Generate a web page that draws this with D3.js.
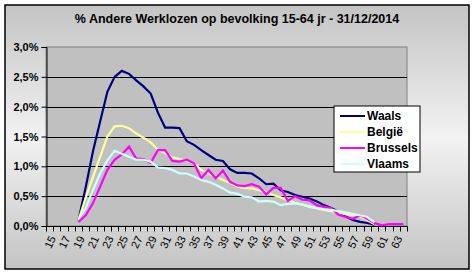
<!DOCTYPE html>
<html>
<head>
<meta charset="utf-8">
<script src="https://cdn.jsdelivr.net/npm/d3@7"></script>
<style>
  html, body { margin: 0; padding: 0; background: #fff; }
  svg { display: block; font-family: Arial, "Liberation Sans", sans-serif; }
</style>
</head>
<body>
<svg id="chart" width="475" height="274"></svg>
<script>
// ages 15..64
const ages = d3.range(15, 65);
const yTicks = [0, 0.005, 0.01, 0.015, 0.02, 0.025, 0.03];

// values in %, null = no data (ages 15-18)
const waals = [null, null, null, null,
  0.10, 0.65, 1.25, 1.75, 2.25, 2.50, 2.60, 2.55, 2.44, 2.34, 2.22, 1.90, 1.65, 1.65, 1.64,
  1.42, 1.36, 1.27, 1.19, 1.11, 1.09, 0.95, 0.89, 0.89, 0.88, 0.80, 0.70, 0.71, 0.60, 0.57,
  0.52, 0.49, 0.46, 0.41, 0.35, 0.30, 0.24, 0.16, 0.10, 0.07, 0.05, 0.02];
const belgie = [null, null, null, null,
  0.10, 0.47, 0.82, 1.16, 1.50, 1.67, 1.68, 1.64, 1.55, 1.48, 1.40, 1.28, 1.22, 1.15, 1.12,
  1.09, 1.05, 0.94, 0.88, 0.83, 0.77, 0.72, 0.66, 0.64, 0.63, 0.60, 0.57, 0.52, 0.48, 0.43,
  0.39, 0.36, 0.32, 0.30, 0.27, 0.25, 0.22, 0.20, 0.18, 0.16, 0.10, 0.03];
const brussels = [null, null, null, null,
  0.07, 0.18, 0.38, 0.66, 0.94, 1.11, 1.20, 1.33, 1.13, 1.12, 1.06, 1.27, 1.27, 1.09, 1.08,
  1.11, 1.05, 0.80, 0.94, 0.80, 0.93, 0.74, 0.68, 0.67, 0.70, 0.66, 0.53, 0.64, 0.64, 0.42,
  0.50, 0.44, 0.43, 0.35, 0.32, 0.30, 0.19, 0.15, 0.12, 0.18, 0.12, 0.05, 0.01, 0.03, 0.03, 0.03];
const vlaams = [null, null, null, null,
  0.12, 0.30, 0.60, 0.88, 1.10, 1.26, 1.21, 1.16, 1.11, 1.11, 1.08, 0.98, 0.97, 0.94, 0.88,
  0.88, 0.83, 0.77, 0.74, 0.69, 0.63, 0.56, 0.54, 0.49, 0.48, 0.41, 0.42, 0.41, 0.35, 0.37,
  0.38, 0.36, 0.33, 0.30, 0.28, 0.27, 0.25, 0.23, 0.20, 0.18, 0.15, 0.06];

const seriesNames = ["Waals", "België", "Brussels", "Vlaams"];
const seriesValues = [waals, belgie, brussels, vlaams];
const seriesColors = ["#000080", "#ffff99", "#ff00ff", "#ccffff"];

const svg = d3.select("#chart");

// chart area background with gradient
const defs = svg.append("defs");
const grad = defs.append("linearGradient").attr("id", "bg")
  .attr("x1", 0).attr("y1", 0).attr("x2", 0).attr("y2", 1);
grad.append("stop").attr("offset", "0%").attr("stop-color", "#c4c4c4");
grad.append("stop").attr("offset", "50%").attr("stop-color", "#f2f2f2");
grad.append("stop").attr("offset", "100%").attr("stop-color", "#c4c4c4");

svg.append("rect").attr("x", 5).attr("y", 5).attr("width", 464).attr("height", 264)
  .attr("fill", "url(#bg)").attr("stroke", "#000").attr("stroke-width", 1.5);

// title
svg.append("text")
  .attr("x", 237).attr("y", 23)
  .attr("text-anchor", "middle")
  .attr("font-size", "12.5px").attr("font-weight", "bold")
  .text("% Andere Werklozen op bevolking 15-64 jr - 31/12/2014");

const plot = { left: 46, right: 407, top: 47, bottom: 226 };

const x = d3.scaleBand().domain(ages).range([plot.left, plot.right]).padding(0);
const y = d3.scaleLinear().domain([0, 0.03]).range([plot.bottom, plot.top]);

// plot area
svg.append("rect")
  .attr("x", plot.left).attr("y", plot.top)
  .attr("width", plot.right - plot.left).attr("height", plot.bottom - plot.top)
  .attr("fill", "#c0c0c0").attr("stroke", "#808080").attr("stroke-width", 1);

// gridlines
svg.append("g").selectAll("line")
  .data(yTicks.slice(1, -1))
  .join("line")
  .attr("x1", plot.left).attr("x2", plot.right)
  .attr("y1", d => Math.round(y(d)) + 0.5).attr("y2", d => Math.round(y(d)) + 0.5)
  .attr("stroke", "#000").attr("stroke-width", 1);

// y axis
const yAxis = svg.append("g")
  .attr("transform", `translate(${plot.left + 0.5},0)`)
  .call(d3.axisLeft(y).tickValues(yTicks).tickSize(5).tickPadding(3)
    .tickFormat(d => (d * 100).toFixed(1).replace(".", ",") + "%"));
yAxis.select(".domain").attr("stroke", "#000");
yAxis.selectAll("text").attr("font-size", "11px").attr("font-weight", "bold")
  .attr("font-family", "Arial, 'Liberation Sans', sans-serif").attr("fill", "#000");

// x axis: ticks at category boundaries
const xg = svg.append("g").attr("transform", `translate(0,${plot.bottom + 0.5})`);
xg.append("line").attr("x1", plot.left).attr("x2", plot.right + 0.5)
  .attr("stroke", "#000");
xg.selectAll("line.tick")
  .data(ages.concat([65]))
  .join("line").attr("class", "tick")
  .attr("x1", d => Math.round(d === 65 ? plot.right : x(d)) + 0.5)
  .attr("x2", d => Math.round(d === 65 ? plot.right : x(d)) + 0.5)
  .attr("y1", 0).attr("y2", 5).attr("stroke", "#000");
xg.selectAll("text")
  .data(ages.filter(a => (a - 15) % 2 === 0))
  .join("text")
  .attr("transform", d => `translate(${x(d) + x.bandwidth() / 2 + 3},${10}) rotate(-65)`)
  .attr("text-anchor", "end")
  .attr("dy", "0.35em")
  .attr("font-size", "11px")
  .text(d => d);

// lines
const line = d3.line()
  .defined(d => d.v !== null)
  .x(d => x(d.age) + x.bandwidth() / 2)
  .y(d => y(d.v / 100));

seriesValues.forEach((vals, i) => {
  const pts = ages.map((a, j) => ({ age: a, v: j < vals.length ? vals[j] : null }));
  svg.append("path")
    .datum(pts)
    .attr("fill", "none")
    .attr("stroke", seriesColors[i])
    .attr("stroke-width", 2.2)
    .attr("stroke-linejoin", "miter")
    .attr("d", line);
});

// legend
const lg = svg.append("g").attr("transform", "translate(334,106)");
lg.append("rect").attr("width", 86).attr("height", 66)
  .attr("fill", "#fff").attr("stroke", "#000").attr("stroke-width", 1);
seriesNames.forEach((name, i) => {
  const yy = 10 + i * 16;
  lg.append("line").attr("x1", 6).attr("x2", 31).attr("y1", yy).attr("y2", yy)
    .attr("stroke", seriesColors[i]).attr("stroke-width", 2);
  lg.append("text").attr("x", 33).attr("y", yy).attr("dy", "0.36em")
    .attr("font-size", "12px").attr("font-weight", "bold").text(name);
});
</script>
</body>
</html>
